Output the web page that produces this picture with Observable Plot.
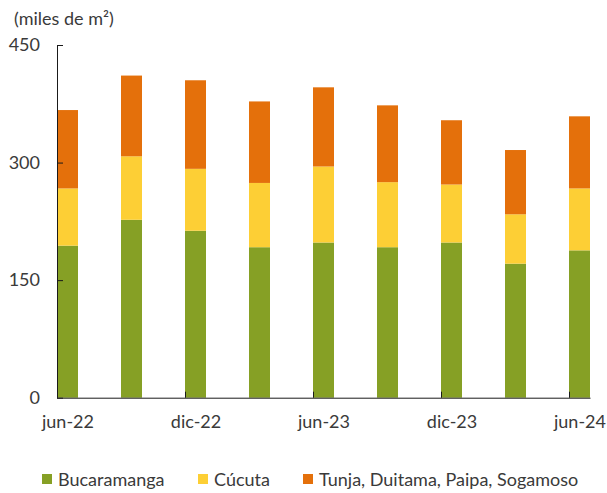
<!DOCTYPE html>
<html><head><meta charset="utf-8">
<script src="https://cdn.jsdelivr.net/npm/d3@7"></script>
<script src="https://cdn.jsdelivr.net/npm/@observablehq/plot@0.6"></script>
<style>
html,body{margin:0;padding:0;background:#fff;overflow:hidden;}
body{font-family:Lato,sans-serif;color:#3a3a3a;width:607px;height:493px;position:relative;}
#title{position:absolute;left:14px;top:6px;height:24px;line-height:24px;font-size:18px;white-space:nowrap;}
#chart{position:absolute;left:0;top:28px;}
#chart svg{display:block;}
#legend{position:absolute;left:0;top:467px;width:607px;height:24px;font-size:18px;}
.item{position:absolute;top:0;display:flex;align-items:center;height:24px;line-height:24px;white-space:nowrap;}
.sw{width:10px;height:10px;margin-right:6px;flex:none;}
</style></head><body>
<div id="title">(miles de m²)</div>
<div id="chart"></div>
<div id="legend"></div>
<script>
const periods = ["jun-22","sep-22","dic-22","mar-23","jun-23","sep-23","dic-23","mar-24","jun-24"];
const series = ["Bucaramanga","Cúcuta","Tunja, Duitama, Paipa, Sogamoso"];
const colors = ["#86a025","#fdcf35","#e4700b"];
const bucaramanga = [194,227,213,192,198,192,198,171,188];
const cucuta = [73,81,79,82,97,83,74,63,79];
const tunja = [100,103,113,104,101,98,82,82,92];
const xTicks = ["jun-22","dic-22","jun-23","dic-23","jun-24"];
const yTicks = [0,150,300,450];

const values = [bucaramanga, cucuta, tunja];
const rows = [];
series.forEach((s, j) => periods.forEach((p, i) => rows.push({period: p, series: s, value: values[j][i]})));

const bw = 21;
const chart = Plot.plot({
  width: 607,
  height: 410,
  marginLeft: 57,
  marginRight: 16.5,
  marginTop: 17,
  marginBottom: 40.3,
  style: {fontFamily: "Lato, sans-serif", fontSize: "18px", color: "#3a3a3a", background: "#fff"},
  x: {type: "band", domain: periods, paddingInner: 0.672, paddingOuter: 0, label: null},
  y: {domain: [0, 450], label: null},
  color: {domain: series, range: colors},
  marks: [
    Plot.barY(rows, {x: "period", y: "value", fill: "series", order: series}),
    Plot.ruleY([0], {stroke: "#1a1a1a"}),
    Plot.ruleX([periods[0]], {y1: 0, y2: 450, dx: -bw / 2, stroke: "#1a1a1a"}),
    Plot.axisY({ticks: yTicks, tickSize: 0, tickPadding: 17.5, label: null}),
    Plot.axisY({ticks: yTicks, tickSize: 6, dx: 6, stroke: "#1a1a1a", tickFormat: () => "", label: null}),
    Plot.axisX({ticks: xTicks, tickSize: 0, tickPadding: 17.5, label: null}),
    Plot.axisX({ticks: xTicks, tickSize: 6, dx: -bw / 2, dy: -6, stroke: "#1a1a1a", tickFormat: () => "", label: null})
  ]
});
document.getElementById("chart").append(chart);

const legendLeft = [42, 198, 303];
const legend = document.getElementById("legend");
series.forEach((s, j) => {
  const item = document.createElement("div");
  item.className = "item";
  item.style.left = legendLeft[j] + "px";
  const sw = document.createElement("span");
  sw.className = "sw";
  sw.style.background = colors[j];
  const t = document.createElement("span");
  t.textContent = s;
  item.append(sw, t);
  legend.append(item);
});
</script>
</body></html>
